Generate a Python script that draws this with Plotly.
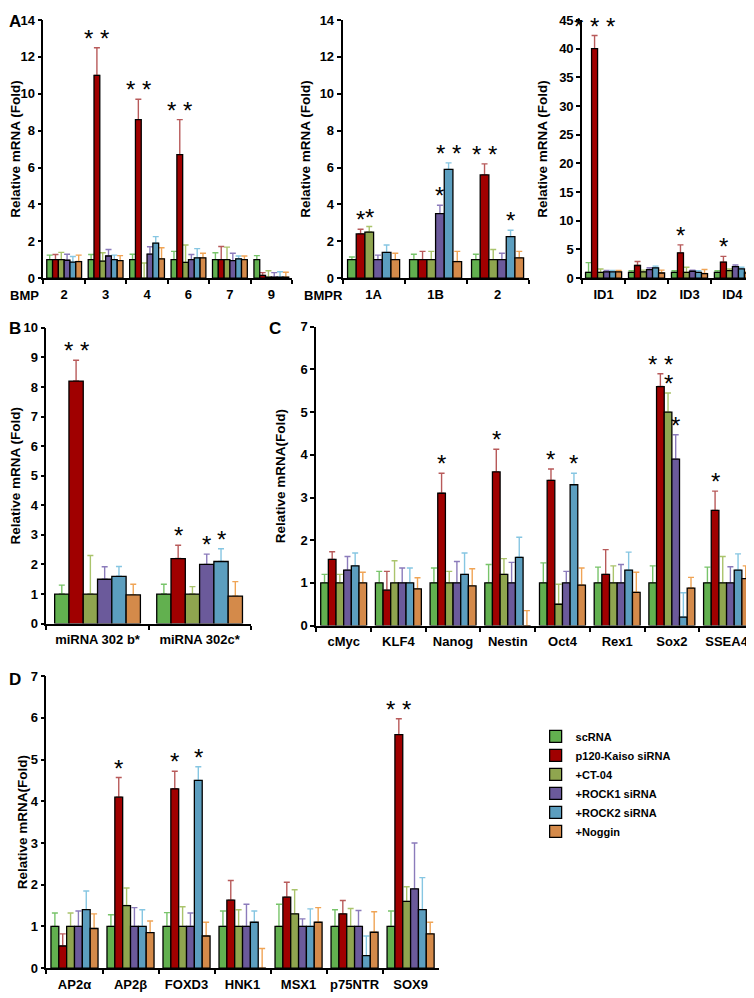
import plotly.graph_objects as go

# The page body has an 8 px margin and the page is fitted to the 754x998 shot
WIN = 8
FW, FH = 746, 990
SX, SY = 754 / (FW + 2 * WIN), 998 / (FH + 2 * WIN)

series_names = ["scRNA", "p120-Kaiso siRNA", "+CT-04", "+ROCK1 siRNA", "+ROCK2 siRNA", "+Noggin"]
bar_colors = ["#62b04f", "#a00000", "#8fa54f", "#6b5a9b", "#5c9ebf", "#d48a4a"]
err_colors = ["#78c46a", "#b85a5a", "#aac46c", "#8b7bbb", "#86c6e2", "#f0a455"]

# ---- Panel A: BMP ----
bmp_cats = ["2", "3", "4", "6", "7", "9"]
bmp_vals = [
    [1.0, 1.0, 1.0, 1.0, 1.0, 1.0],
    [1.0, 11.0, 8.6, 6.7, 1.0, 0.15],
    [1.0, 0.92, 0.0, 0.85, 1.0, 0.05],
    [0.97, 1.2, 1.3, 1.0, 0.95, 0.05],
    [0.87, 1.0, 1.9, 1.1, 1.05, 0.05],
    [0.9, 0.95, 1.05, 1.1, 1.0, 0.05],
]
bmp_errs = [
    [0.25, 0.28, 0.3, 0.45, 0.38, 0.22],
    [0.28, 1.5, 1.1, 1.9, 0.72, 0.15],
    [0.4, 0.46, 0.82, 0.95, 0.68, 0.35],
    [0.33, 0.35, 0.4, 0.28, 0.4, 0.25],
    [0.3, 0.25, 0.35, 0.5, 0.15, 0.3],
    [0.35, 0.27, 0.6, 0.25, 0.2, 0.27],
]
# ---- Panel A: BMPR ----
bmpr_cats = ["1A", "1B", "2"]
bmpr_vals = [
    [1.0, 1.0, 1.0],
    [2.4, 1.0, 5.6],
    [2.5, 1.0, 1.0],
    [1.0, 3.5, 1.0],
    [1.4, 5.9, 2.25],
    [1.0, 0.9, 1.1],
]
bmpr_errs = [
    [0.15, 0.3, 0.3],
    [0.25, 0.45, 0.6],
    [0.3, 0.45, 0.55],
    [0.25, 0.45, 0.35],
    [0.4, 0.35, 0.35],
    [0.35, 0.55, 0.35],
]
# ---- Panel A: ID ----
id_cats = ["ID1", "ID2", "ID3", "ID4"]
id_vals = [
    [1.0, 1.0, 1.0, 1.0],
    [40.0, 2.2, 4.4, 2.8],
    [1.0, 1.1, 1.0, 1.3],
    [1.1, 1.5, 1.2, 2.0],
    [1.1, 1.8, 1.0, 1.6],
    [1.1, 0.9, 0.8, 0.9],
]
id_errs = [
    [1.7, 0.3, 0.3, 0.3],
    [2.3, 0.7, 1.4, 1.0],
    [0.6, 0.3, 0.9, 0.3],
    [0.25, 0.3, 0.2, 0.3],
    [0.25, 0.3, 0.3, 0.3],
    [0.25, 0.5, 0.7, 0.2],
]
# ---- Panel B: miRNA ----
mir_cats = ["miRNA 302 b*", "miRNA 302c*"]
mir_vals = [
    [1.0, 1.0],
    [8.2, 2.2],
    [1.0, 1.0],
    [1.5, 2.0],
    [1.6, 2.1],
    [0.97, 0.93],
]
mir_errs = [
    [0.3, 0.33],
    [0.7, 0.45],
    [1.3, 0.25],
    [0.42, 0.35],
    [0.33, 0.43],
    [0.36, 0.49],
]
# ---- Panel C: pluripotency ----
plu_cats = ["cMyc", "KLF4", "Nanog", "Nestin", "Oct4", "Rex1", "Sox2", "SSEA4"]
plu_vals = [
    [1.0, 1.0, 1.0, 1.0, 1.0, 1.0, 1.0, 1.0],
    [1.55, 0.83, 3.1, 3.6, 3.4, 1.2, 5.6, 2.7],
    [1.0, 1.0, 1.0, 1.2, 0.5, 1.0, 5.0, 1.0],
    [1.3, 1.0, 1.0, 1.0, 1.0, 1.0, 3.9, 1.0],
    [1.4, 1.0, 1.2, 1.6, 3.3, 1.3, 0.2, 1.3],
    [1.0, 0.86, 0.93, 0.0, 0.95, 0.78, 0.88, 1.1],
]
plu_errs = [
    [0.2, 0.27, 0.35, 0.43, 0.47, 0.37, 0.4, 0.37],
    [0.18, 0.44, 0.47, 0.53, 0.27, 0.58, 0.3, 0.45],
    [0.2, 0.52, 0.27, 0.37, 0.47, 0.4, 0.45, 0.62],
    [0.32, 0.35, 0.5, 0.48, 0.27, 0.43, 0.57, 0.38],
    [0.3, 0.35, 0.5, 0.47, 0.27, 0.42, 0.57, 0.38],
    [0.25, 0.26, 0.4, 0.35, 0.4, 0.47, 0.25, 0.3],
]
# ---- Panel D: neural crest ----
nc_cats = ["AP2α", "AP2β", "FOXD3", "HNK1", "MSX1", "p75NTR", "SOX9"]
nc_vals = [
    [1.0, 1.0, 1.0, 1.0, 1.0, 1.0, 1.0],
    [0.53, 4.1, 4.3, 1.63, 1.7, 1.3, 5.6],
    [1.0, 1.5, 1.0, 1.0, 1.3, 1.0, 1.6],
    [1.0, 1.0, 1.0, 1.0, 1.0, 1.0, 1.9],
    [1.4, 1.0, 4.5, 1.1, 1.0, 0.3, 1.4],
    [0.95, 0.85, 0.77, 0.0, 1.1, 0.86, 0.82],
]
nc_errs = [
    [0.32, 0.28, 0.33, 0.37, 0.53, 0.4, 0.37],
    [0.29, 0.47, 0.42, 0.47, 0.36, 0.32, 0.38],
    [0.32, 0.42, 0.47, 0.4, 0.58, 0.43, 0.35],
    [0.37, 0.45, 0.32, 0.53, 0.18, 0.38, 1.1],
    [0.45, 0.4, 0.33, 0.27, 0.42, 0.47, 0.77],
    [0.35, 0.28, 0.33, 0.47, 0.35, 0.49, 0.28],
]

# significance marks: (category index, series index, text)
bmp_sig = [(1, 1, "* *"), (2, 1, "* *"), (3, 1, "* *")]
bmpr_sig = [(0, 1, "*"), (0, 2, "*"), (1, 3, "*"), (1, 4, "* *"), (2, 1, "* *"), (2, 4, "*")]
id_sig = [(0, 1, "* * *"), (2, 1, "*"), (3, 1, "*")]
mir_sig = [(0, 1, "* *"), (1, 1, "*"), (1, 3, "*"), (1, 4, "*")]
plu_sig = [(2, 1, "*"), (3, 1, "*"), (4, 1, "*"), (4, 4, "*"), (6, 1, "* *"), (6, 2, "*"),
           (6, 3, "*"), (7, 1, "*")]
nc_sig = [(1, 1, "*"), (2, 1, "*"), (2, 4, "*"), (6, 1, "* *")]

BARGAP = 0.16
FONT = "Arial, Liberation Sans, sans-serif"


def fx(px):
    return min(1.0, max(0.0, (px / SX - WIN) / FW))


def fy(py):
    return min(1.0, max(0.0, 1 - (py / SY - WIN) / FH))


# panel boxes in screenshot pixels: (x0, x1, ytop, ybottom)
panels = [
    dict(cats=bmp_cats, vals=bmp_vals, errs=bmp_errs, sig=bmp_sig, box=(43, 289, 13, 273),
         yr=14, dt=2, title="Relative mRNA (Fold)", stand=0),
    dict(cats=bmpr_cats, vals=bmpr_vals, errs=bmpr_errs, sig=bmpr_sig, box=(339, 523, 13, 273),
         yr=14, dt=2, title="Relative mRNA (Fold)", stand=6),
    dict(cats=id_cats, vals=id_vals, errs=id_errs, sig=id_sig, box=(576, 746, 13, 273),
         yr=45, dt=5, title="Relative mRNA (Fold)", stand=8),
    dict(cats=mir_cats, vals=mir_vals, errs=mir_errs, sig=mir_sig, box=(46, 248, 323, 621),
         yr=10, dt=1, title="Relative mRNA (Fold)", stand=0),
    dict(cats=plu_cats, vals=plu_vals, errs=plu_errs, sig=plu_sig, box=(313, 746, 322, 623),
         yr=7, dt=1, title="Relative mRNA(Fold)", stand=12),
    dict(cats=nc_cats, vals=nc_vals, errs=nc_errs, sig=nc_sig, box=(46, 434, 674, 968),
         yr=7, dt=1, title="Relative mRNA(Fold)", stand=0),
]

fig = go.Figure()
layout = {}
annotations = []
bold = dict(family=FONT, size=13, color="black", weight="bold")

for pi, p in enumerate(panels):
    n = pi + 1
    xa = "x" if n == 1 else f"x{n}"
    ya = "y" if n == 1 else f"y{n}"
    x0, x1, yt, yb = p["box"]
    # error-bar carriers (hidden bars) then visible bars on top, sharing offsetgroup
    for k in range(6):
        fig.add_trace(go.Bar(
            x=p["cats"], y=p["vals"][k], xaxis=xa, yaxis=ya, offsetgroup=str(k),
            marker=dict(color="rgba(0,0,0,0)", line=dict(width=0)),
            error_y=dict(type="data", array=p["errs"][k], arrayminus=[0] * len(p["cats"]),
                         symmetric=False, color=err_colors[k], thickness=1.4, width=3),
            showlegend=False, hoverinfo="skip"))
    for k in range(6):
        fig.add_trace(go.Bar(
            x=p["cats"], y=p["vals"][k], xaxis=xa, yaxis=ya, offsetgroup=str(k),
            name=series_names[k],
            marker=dict(color=bar_colors[k], line=dict(color="black", width=1.3)),
            showlegend=(n == 1)))
    layout["xaxis" if n == 1 else f"xaxis{n}"] = dict(
        domain=[fx(x0), fx(x1)], anchor=ya, type="category",
        range=[-0.5, len(p["cats"]) - 0.5], showline=True, linecolor="black", linewidth=1.8,
        ticks="outside", tickson="boundaries", ticklen=4, tickwidth=1.8, tickcolor="black",
        showgrid=False, zeroline=False, tickfont=bold, ticklabelstandoff=3, tickangle=0)
    layout["yaxis" if n == 1 else f"yaxis{n}"] = dict(
        domain=[fy(yb), fy(yt)], anchor=xa, range=[0, p["yr"]], dtick=p["dt"],
        tick0=0, showline=True, linecolor="black", linewidth=1.8, ticks="outside", ticklen=4,
        tickwidth=1.8, tickcolor="black", showgrid=False, zeroline=False, tickfont=bold,
        title=dict(text=p["title"], font=dict(family=FONT, size=13.5, color="black",
                                              weight="bold"), standoff=p["stand"]))
    slot = (1 - BARGAP) / 6
    for (ci, si, txt) in p["sig"]:
        xpos = ci - (1 - BARGAP) / 2 + slot * (si + 0.5)
        annotations.append(dict(
            x=xpos, y=p["vals"][si][ci] + p["errs"][si][ci], xref=xa, yref=ya,
            text=txt, showarrow=False, yanchor="bottom", xanchor="center", yshift=-6,
            font=dict(family=FONT, size=24, color="black")))

# panel letters and axis prefixes (screenshot pixel positions)
for letter, px, py in [("A", 15, 14), ("B", 15, 324), ("C", 272, 324), ("D", 15, 677)]:
    annotations.append(dict(x=fx(px), y=fy(py), xref="paper", yref="paper", text=letter,
                            showarrow=False, xanchor="center", yanchor="middle",
                            font=dict(family=FONT, size=17, color="black", weight="bold")))
for txt, px in [("BMP", 24), ("BMPR", 320)]:
    annotations.append(dict(x=fx(px), y=fy(290), xref="paper", yref="paper", text=txt,
                            showarrow=False, xanchor="center", yanchor="middle",
                            font=bold))

fig.update_layout(
    **layout,
    annotations=annotations,
    width=FW, height=FH, margin=dict(l=0, r=0, t=0, b=0),
    paper_bgcolor="white", plot_bgcolor="white",
    barmode="group", bargap=BARGAP, bargroupgap=0,
    font=dict(family=FONT, color="black"),
    legend=dict(x=fx(530), y=fy(720), xanchor="left", yanchor="top",
                font=dict(family=FONT, size=11, color="black", weight="bold"),
                bgcolor="rgba(0,0,0,0)", tracegroupgap=0),
)

fig.write_html("out.html")
